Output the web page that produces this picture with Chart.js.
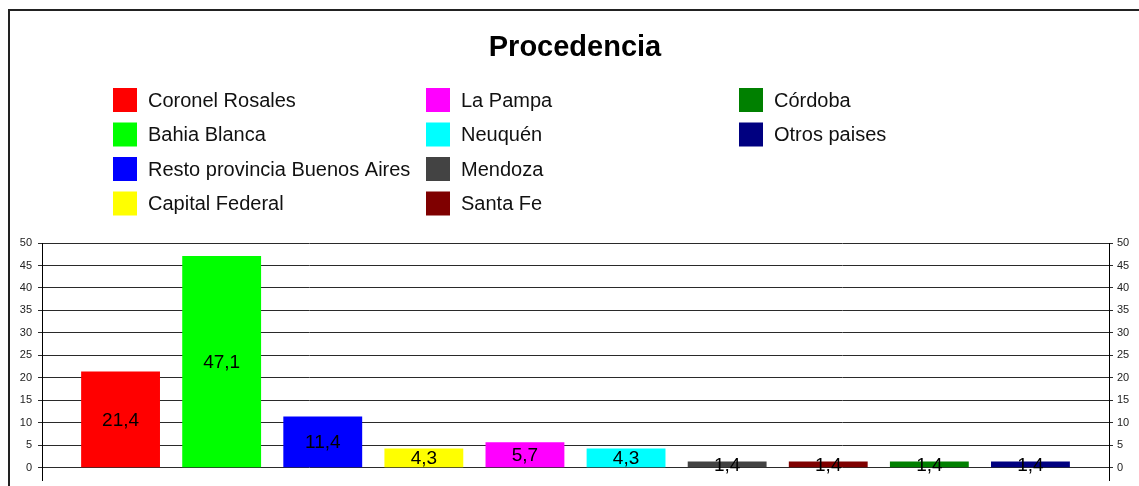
<!DOCTYPE html>
<html>
<head>
<meta charset="utf-8">
<script src="https://cdn.jsdelivr.net/npm/chart.js@4"></script>
<style>
  html, body { margin: 0; padding: 0; background: #fff; }
  #wrap { position: relative; width: 1139px; height: 486px; }
</style>
</head>
<body>
<div id="wrap"><canvas id="procedenciaChart"></canvas></div>
<script>
const categories = ['Coronel Rosales', 'Bahia Blanca', 'Resto provincia Buenos Aires', 'Capital Federal',
  'La Pampa', 'Neuquén', 'Mendoza', 'Santa Fe', 'Córdoba', 'Otros paises'];
const values = [21.4, 47.1, 11.4, 4.3, 5.7, 4.3, 1.4, 1.4, 1.4, 1.4];
const colors = ['#ff0000', '#00ff00', '#0000ff', '#ffff00', '#ff00ff', '#00ffff', '#434343', '#7f0000', '#008000', '#000080'];
const yTicks = [0, 5, 10, 15, 20, 25, 30, 35, 40, 45, 50];

const FONT = '"Liberation Sans", Arial, sans-serif';

const datasets = categories.map((name, i) => ({
  label: name,
  data: [values[i]],
  backgroundColor: colors[i],
  borderWidth: 0
}));

// frame, title and a column-wise legend
const decorPlugin = {
  id: 'decor',
  beforeDraw(chart) {
    const ctx = chart.ctx;
    ctx.save();
    ctx.fillStyle = '#fff';
    ctx.fillRect(0, 0, chart.width, chart.height);
    ctx.strokeStyle = '#222';
    ctx.lineWidth = 2;
    ctx.beginPath();
    ctx.moveTo(9, chart.height);
    ctx.lineTo(9, 10);
    ctx.lineTo(chart.width, 10);
    ctx.stroke();
    ctx.restore();
  },
  afterDraw(chart) {
    const ctx = chart.ctx;
    ctx.save();
    ctx.fillStyle = '#000';
    ctx.font = 'bold 29px ' + FONT;
    ctx.textAlign = 'center';
    ctx.textBaseline = 'middle';
    ctx.fillText('Procedencia', 575, 48);

    const colX = [113, 426, 739];
    const rowY = [100, 134.5, 169, 203.5];
    ctx.font = '20px ' + FONT;
    ctx.textAlign = 'left';
    chart.data.datasets.forEach((ds, i) => {
      const x = colX[Math.floor(i / 4)];
      const y = rowY[i % 4];
      ctx.fillStyle = ds.backgroundColor;
      ctx.fillRect(x, y - 12, 24, 24);
      ctx.fillStyle = '#111';
      ctx.fillText(ds.label, x + 35, y + 1);
    });
    ctx.restore();
  }
};

// value in the middle of each bar, decimal comma
const valueLabels = {
  id: 'valueLabels',
  afterDatasetsDraw(chart) {
    const ctx = chart.ctx;
    ctx.save();
    ctx.font = '19px ' + FONT;
    ctx.fillStyle = '#000';
    ctx.textAlign = 'center';
    ctx.textBaseline = 'middle';
    chart.data.datasets.forEach((ds, i) => {
      chart.getDatasetMeta(i).data.forEach((bar, j) => {
        const txt = ds.data[j].toFixed(1).replace('.', ',');
        ctx.fillText(txt, bar.x, (bar.y + bar.base) / 2 + 1);
      });
    });
    ctx.restore();
  }
};

const onlyTicks = scale => { scale.ticks = yTicks.map(v => ({ value: v })); };
const fitY = w => s => { s.width = w; s.paddingTop = 0; s.paddingBottom = 0; };

const chart = new Chart(document.getElementById('procedenciaChart'), {
  type: 'bar',
  data: { labels: [''], datasets: datasets },
  plugins: [decorPlugin, valueLabels],
  options: {
    responsive: true,
    maintainAspectRatio: false,
    animation: false,
    categoryPercentage: 0.9475,
    barPercentage: 0.78,
    layout: { padding: { top: 243, bottom: 6, left: 0, right: 0 } },
    plugins: {
      legend: { display: false },
      title: { display: false },
      tooltip: { enabled: false }
    },
    scales: {
      x: {
        display: false
      },
      y: {
        min: -2.7,
        max: 50,
        afterBuildTicks: onlyTicks,
        afterFit: fitY(42),
        grid: { color: '#2a2a2a', lineWidth: 1, tickLength: 4 },
        border: { color: '#000', width: 1 },
        ticks: { color: '#222', font: { family: FONT, size: 11 }, padding: 6 }
      },
      y1: {
        position: 'right',
        min: -2.7,
        max: 50,
        afterBuildTicks: onlyTicks,
        afterFit: fitY(30),
        grid: { drawOnChartArea: false, color: '#2a2a2a', tickLength: 4 },
        border: { color: '#000', width: 1 },
        ticks: { color: '#222', font: { family: FONT, size: 11 }, padding: 4 }
      }
    }
  }
});
</script>
</body>
</html>
